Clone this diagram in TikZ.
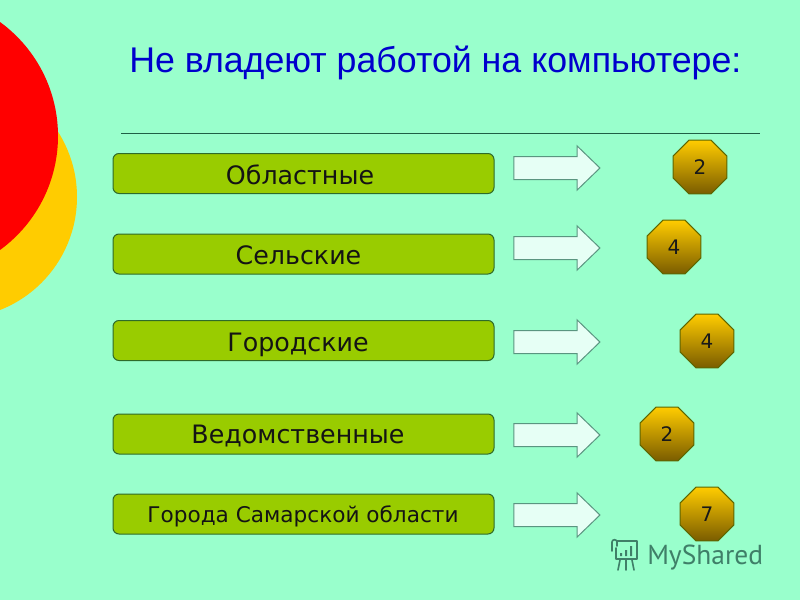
\documentclass[tikz,border=0pt]{standalone}
\usepackage{fontspec}
\setmainfont{DejaVu Sans}
\newfontfamily\titlefont{Liberation Sans}
\newfontfamily\markfont{PT Sans}
\usetikzlibrary{shapes.geometric,shapes.arrows}
\definecolor{bg}{HTML}{99FFCC}
\definecolor{boxfill}{HTML}{99CC00}
\definecolor{boxline}{HTML}{2E6B2A}
\definecolor{rulecol}{HTML}{1F5F45}
\definecolor{arrowfill}{HTML}{E6FFF5}
\definecolor{arrowline}{HTML}{5A9580}
\definecolor{octtop}{HTML}{FFCC00}
\definecolor{octbot}{HTML}{7A5C00}
\definecolor{octline}{HTML}{5C6600}
\definecolor{titlecol}{HTML}{0000CC}
\definecolor{markcol}{HTML}{3F7F68}
\tikzset{
  x=0.75pt,y=-0.75pt,
  rowbox/.style={draw=boxline,line width=0.75pt,fill=boxfill,rounded corners=4.5pt,
    minimum width=285.75pt,minimum height=30pt,inner sep=0pt},
  rowlabel/.style={anchor=base,inner sep=0pt,text=black!92,font=\fontsize{19pt}{22pt}\selectfont},
  pointer/.style={single arrow,draw=arrowline,line width=0.75pt,fill=arrowfill,
    minimum height=64.5pt,inner sep=0pt,
    single arrow head extend=8pt,single arrow tip angle=88,single arrow head indent=0pt},
  octa/.style={regular polygon,regular polygon sides=8,draw=octline,line width=0.75pt,
    top color=octtop,bottom color=octbot,minimum size=43.5pt,inner sep=0pt,
    text=black!90,font=\fontsize{15pt}{18pt}\selectfont},
  logo/.style={draw=markcol,line width=1.2pt,line cap=round,line join=round},
}
\newcommand{\shaft}{\rule{0pt}{16.5pt}}
\begin{document}
\begin{tikzpicture}
\useasboundingbox (0,0) rectangle (800,600);
\fill[bg] (0,0) rectangle (800,600);
\begin{scope}
\clip (0,0) rectangle (800,600);
\fill[octtop] (-44.4,197) circle[radius=91.05pt];
\fill[red] (-83,136) circle[radius=105.75pt];
\end{scope}
\node[anchor=base west,inner sep=0pt,text=titlecol,font=\titlefont\fontsize{26.8pt}{30pt}\selectfont] (title) at (129,72) {Не владеют работой на компьютере:};
\coordinate (ruleL) at (121,133);
\coordinate (ruleR) at (760,133);
\draw[rulecol,line width=0.75pt] (ruleL) -- (ruleR);

\node[rowbox] (b1) at (303.5,173.5) {};
\node[rowbox] (b2) at (303.5,254) {};
\node[rowbox] (b3) at (303.5,340.5) {};
\node[rowbox] (b4) at (303.5,434) {};
\node[rowbox] (b5) at (303.5,514) {};
\node[rowlabel] (l1) at (300,184) {Областные};
\node[rowlabel] (l2) at (298.5,264) {Сельские};
\node[rowlabel] (l3) at (298,351) {Городские};
\node[rowlabel] (l4) at (298,443.5) {Ведомственные};
\node[rowlabel,font=\fontsize{16.2pt}{18pt}\selectfont] (l5) at (303,522) {Города Самарской области};

\node[pointer] (a1) at (551,168) {\shaft};
\node[pointer] (a2) at (551,248) {\shaft};
\node[pointer] (a3) at (551,342) {\shaft};
\node[pointer] (a4) at (551,435) {\shaft};
\node[pointer] (a5) at (551,515) {\shaft};

\node[octa] (o1) at (700,167) {2};
\node[octa] (o2) at (674,247) {4};
\node[octa] (o3) at (707,341) {4};
\node[octa] (o4) at (667,434) {2};
\node[octa] (o5) at (707,514) {7};

% watermark
\node[anchor=base west,inner sep=0pt,text=markcol,font=\markfont\fontsize{20.6pt}{26pt}\selectfont] (mark) at (647,564) {MyShared};
\draw[logo] (617,541) -- (637,541) -- (637,559) -- (616,559) -- (616,548);
\draw[logo] (612,551) -- (612,542) .. controls (612,539) and (617,539) .. (617,542) -- (617,546);
\draw[logo] (620,560) -- (618,570) (626,560) -- (626,570) (632,560) -- (634,570);
\fill[markcol] (620,553) rectangle (622,556) (625,550) rectangle (627,556) (630,546) rectangle (632,556);
\end{tikzpicture}
\end{document}
